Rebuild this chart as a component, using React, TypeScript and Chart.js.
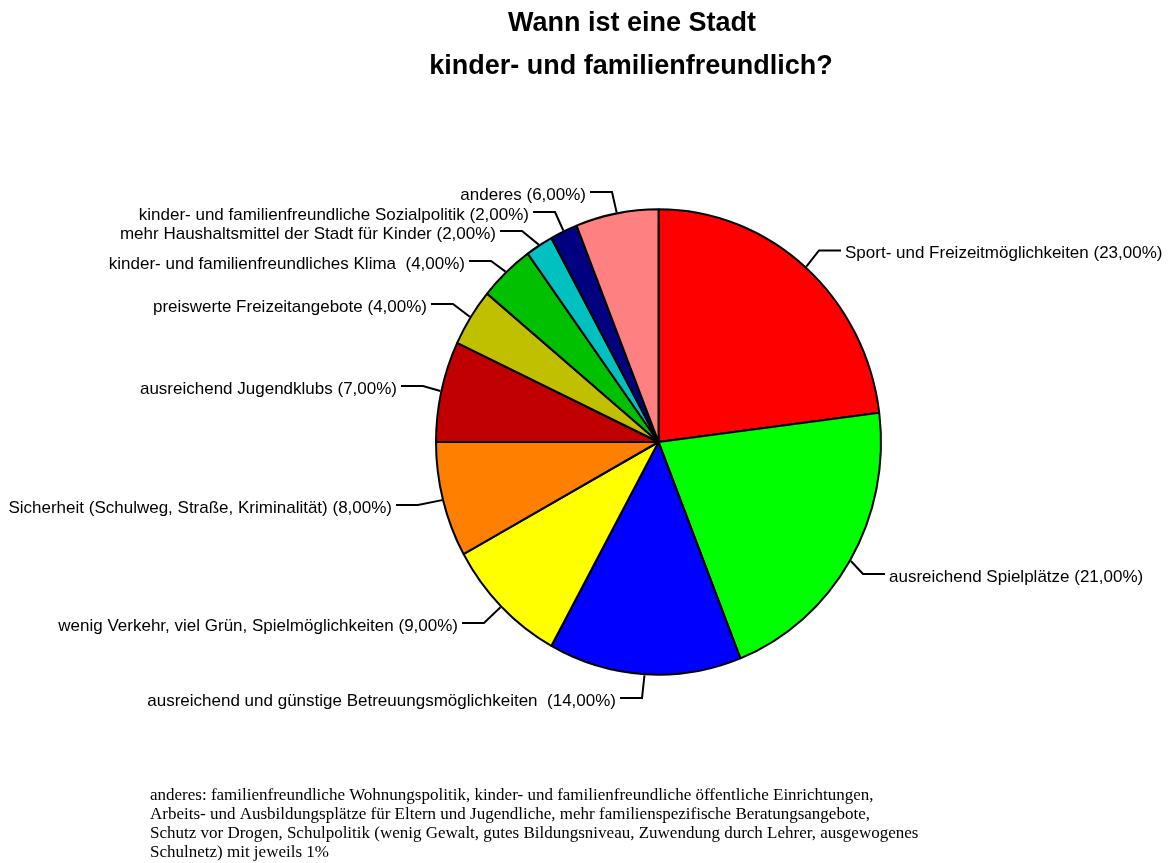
import React, { useEffect, useRef } from "react";
import { Chart, registerables } from "chart.js";

Chart.register(...registerables);

// ---------- data ----------
const categories = [
  "Sport- und Freizeitmöglichkeiten",
  "ausreichend Spielplätze",
  "ausreichend und günstige Betreuungsmöglichkeiten ",
  "wenig Verkehr, viel Grün, Spielmöglichkeiten",
  "Sicherheit (Schulweg, Straße, Kriminalität)",
  "ausreichend Jugendklubs",
  "preiswerte Freizeitangebote",
  "kinder- und familienfreundliches Klima ",
  "mehr Haushaltsmittel der Stadt für Kinder",
  "kinder- und familienfreundliche Sozialpolitik",
  "anderes",
];
const values = [23, 21, 14, 9, 8, 7, 4, 4, 2, 2, 6];
const sliceColors = [
  "#FF0000",
  "#00FF00",
  "#0000FF",
  "#FFFF00",
  "#FF8000",
  "#C00000",
  "#C0C000",
  "#00C000",
  "#00C0C0",
  "#000080",
  "#FF8080",
];
const titleLines = ["Wann ist eine Stadt", "kinder- und familienfreundlich?"];
const footnoteLines = [
  "anderes: familienfreundliche Wohnungspolitik, kinder- und familienfreundliche öffentliche Einrichtungen,",
  "Arbeits- und Ausbildungsplätze für Eltern und Jugendliche, mehr familienspezifische Beratungsangebote,",
  "Schutz vor Drogen, Schulpolitik (wenig Gewalt, gutes Bildungsniveau, Zuwendung durch Lehrer, ausgewogenes",
  "Schulnetz) mit jeweils 1%",
];

// ---------- label layout ----------
const labelSide = ["right", "right", "left", "left", "left", "left", "left", "left", "left", "left", "left"];
const labelEdgeX = [845, 889, 616, 458, 392, 397, 427, 465, 496, 529, 586];
const labelLineY = [250.5, 574, 698, 623, 505, 386, 304, 261, 231, 212, 192];

const W = 1171;
const H = 863;
const CX = 658.5;
const CY = 442;
const RADIUS = 222.5;
const SY = 1.046;

function fmt(v: number) {
  return "(" + v.toFixed(2).replace(".", ",") + "%)";
}

const stretchPlugin = {
  id: "stretch",
  beforeDatasetsDraw(chart: any) {
    const ctx = chart.ctx;
    const arc = chart.getDatasetMeta(0).data[0];
    const cx = arc ? arc.x : CX;
    const cy = arc ? arc.y : CY;
    ctx.save();
    ctx.translate(cx, cy);
    ctx.scale(1, SY);
    ctx.translate(-cx, -cy);
  },
  afterDatasetsDraw(chart: any) {
    chart.ctx.restore();
  },
};

const textPlugin = {
  id: "texts",
  afterDraw(chart: any) {
    const ctx = chart.ctx as CanvasRenderingContext2D;
    ctx.save();
    // title
    ctx.fillStyle = "#000";
    ctx.font = "bold 27px 'Liberation Sans', Arial, sans-serif";
    ctx.textAlign = "center";
    ctx.textBaseline = "middle";
    ctx.fillText(titleLines[0], 632, 24);
    ctx.fillText(titleLines[1], 631, 67);

    // labels with leader lines
    const meta = chart.getDatasetMeta(0);
    ctx.font = "17px 'Liberation Sans', Arial, sans-serif";
    ctx.strokeStyle = "#000";
    ctx.lineWidth = 2;
    const gap = 4;
    const hlen = 22;
    meta.data.forEach((el: any, i: number) => {
      const mid = (el.startAngle + el.endAngle) / 2;
      const r = el.outerRadius + 1;
      const ax = el.x + r * Math.cos(mid);
      const ay = el.y + r * SY * Math.sin(mid);
      const y = labelLineY[i];
      const tx = labelEdgeX[i];
      const right = labelSide[i] === "right";
      const lineEnd = right ? tx - gap : tx + gap;
      const elbowX = right ? lineEnd - hlen : lineEnd + hlen;
      ctx.beginPath();
      ctx.moveTo(ax, ay);
      ctx.lineTo(elbowX, y);
      ctx.lineTo(lineEnd, y);
      ctx.stroke();
      ctx.textAlign = right ? "left" : "right";
      ctx.textBaseline = "middle";
      ctx.fillText(categories[i] + " " + fmt(values[i]), tx, y + 3);
    });

    // footnote
    ctx.font = "17px 'Liberation Serif', 'Times New Roman', serif";
    ctx.textAlign = "left";
    ctx.textBaseline = "middle";
    footnoteLines.forEach((line, i) => {
      ctx.fillText(line, 150, 796 + i * 19);
    });
    ctx.restore();
  },
};

export default function App() {
  const ref = useRef<HTMLCanvasElement | null>(null);
  useEffect(() => {
    if (!ref.current) return;
    const half = 250;
    const chart = new Chart(ref.current, {
      type: "pie",
      data: {
        labels: categories,
        datasets: [
          {
            data: values,
            backgroundColor: sliceColors,
            borderColor: "#000000",
            borderWidth: 2,
            radius: RADIUS,
            hoverOffset: 0,
          } as any,
        ],
      },
      options: {
        responsive: false,
        animation: false,
        devicePixelRatio: 1,
        events: [],
        layout: {
          padding: {
            left: CX - half,
            right: W - (CX + half),
            top: CY - half,
            bottom: H - (CY + half),
          },
        },
        plugins: {
          legend: { display: false },
          title: { display: false },
          tooltip: { enabled: false },
        },
      },
      plugins: [stretchPlugin, textPlugin],
    });
    return () => chart.destroy();
  }, []);
  return (
    <div style={{ position: "fixed", left: 0, top: 0, width: W, height: H, background: "#fff" }}>
      <canvas ref={ref} width={W} height={H} style={{ width: W, height: H, display: "block" }} />
    </div>
  );
}
